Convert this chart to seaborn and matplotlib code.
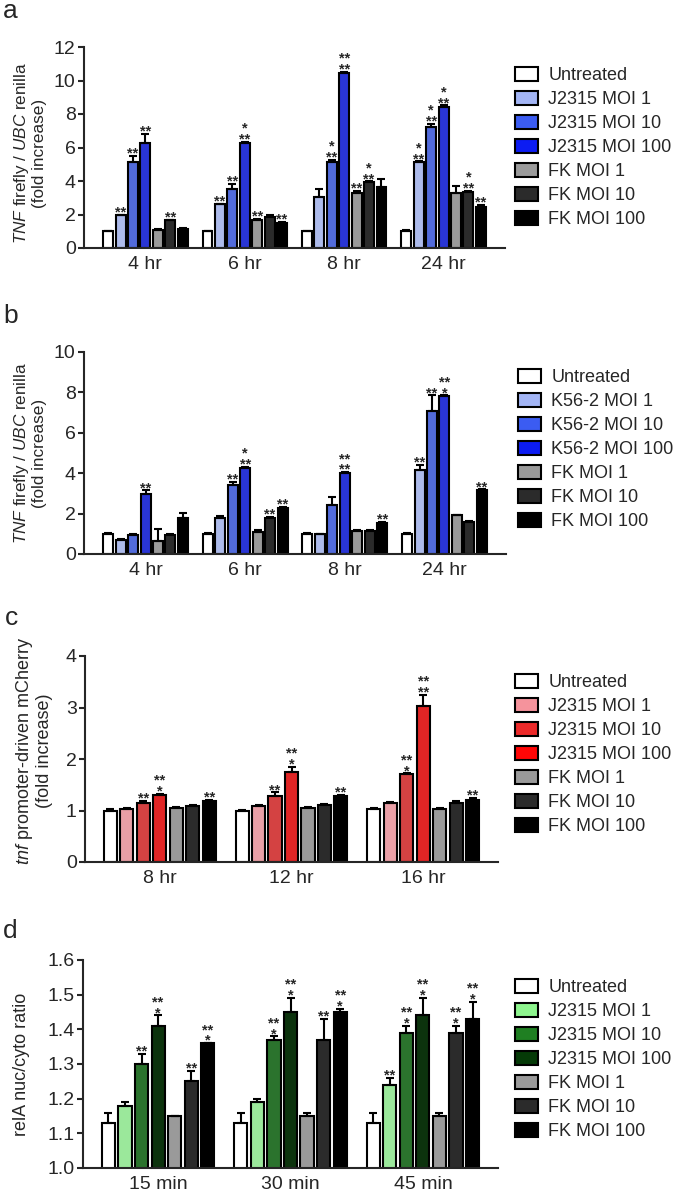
import numpy as np
import pandas as pd
import matplotlib
matplotlib.use("Agg")
import matplotlib.pyplot as plt
from matplotlib.patches import Patch
from matplotlib.container import BarContainer
import seaborn as sns

# ---------------- data ----------------
a_times = ["4 hr", "6 hr", "8 hr", "24 hr"]
a_groups = ["Untreated", "J2315 MOI 1", "J2315 MOI 10", "J2315 MOI 100",
            "FK MOI 1", "FK MOI 10", "FK MOI 100"]
a_mean = [[1.0, 1.0, 1.0, 1.0],
          [1.95, 2.6, 3.05, 5.12],
          [5.15, 3.55, 5.12, 7.25],
          [6.25, 6.25, 10.45, 8.4],
          [1.1, 1.7, 3.3, 3.3],
          [1.65, 1.85, 3.95, 3.35],
          [1.12, 1.5, 3.65, 2.42]]
a_sem = [[0.04, 0.04, 0.04, 0.05],
         [0.05, 0.05, 0.45, 0.05],
         [0.35, 0.3, 0.15, 0.15],
         [0.55, 0.1, 0.05, 0.12],
         [0.05, 0.05, 0.1, 0.4],
         [0.05, 0.15, 0.03, 0.05],
         [0.05, 0.05, 0.45, 0.15]]
a_sig = [["", "", "", ""],
         ["**", "**", "", "*\n**"],
         ["**", "**", "*\n**", "*\n**"],
         ["**", "*\n**", "**\n**", "*\n**"],
         ["", "**", "**", ""],
         ["**", "", "*\n**", "*\n**"],
         ["", "**", "", "**"]]

b_times = ["4 hr", "6 hr", "8 hr", "24 hr"]
b_groups = ["Untreated", "K56-2 MOI 1", "K56-2 MOI 10", "K56-2 MOI 100",
            "FK MOI 1", "FK MOI 10", "FK MOI 100"]
b_mean = [[1.0, 1.0, 1.0, 1.0],
          [0.68, 1.8, 0.97, 4.15],
          [0.95, 3.42, 2.45, 7.1],
          [2.95, 4.25, 4.0, 7.8],
          [0.62, 1.1, 1.15, 1.92],
          [0.95, 1.8, 1.15, 1.6],
          [1.8, 2.27, 1.55, 3.15]]
b_sem = [[0.02, 0.02, 0.02, 0.03],
         [0.05, 0.1, 0.03, 0.25],
         [0.05, 0.15, 0.35, 0.75],
         [0.2, 0.05, 0.05, 0.05],
         [0.6, 0.07, 0.03, 0.03],
         [0.03, 0.03, 0.03, 0.02],
         [0.25, 0.05, 0.03, 0.05]]
b_sig = [["", "", "", ""],
         ["", "", "", "**"],
         ["", "**", "", "**"],
         ["**", "*\n**", "**\n**", "**\n*"],
         ["", "", "", ""],
         ["", "**", "", ""],
         ["", "**", "**", "**"]]

c_times = ["8 hr", "12 hr", "16 hr"]
c_groups = a_groups
c_mean = [[1.0, 0.99, 1.02],
          [1.03, 1.08, 1.14],
          [1.15, 1.28, 1.7],
          [1.3, 1.75, 3.03],
          [1.05, 1.04, 1.03],
          [1.08, 1.1, 1.14],
          [1.19, 1.28, 1.2]]
c_sem = [[0.03, 0.02, 0.02],
         [0.02, 0.03, 0.02],
         [0.03, 0.07, 0.02],
         [0.02, 0.1, 0.22],
         [0.02, 0.02, 0.02],
         [0.02, 0.03, 0.05],
         [0.02, 0.03, 0.04]]
c_sig = [["", "", ""],
         ["", "", ""],
         ["**", "**", "**\n*"],
         ["**\n*", "**\n*", "**\n**"],
         ["", "", ""],
         ["", "", ""],
         ["**", "**", "**"]]

d_times = ["15 min", "30 min", "45 min"]
d_groups = a_groups
d_mean = [[1.13, 1.13, 1.13],
          [1.18, 1.19, 1.24],
          [1.30, 1.37, 1.39],
          [1.41, 1.45, 1.44],
          [1.15, 1.15, 1.15],
          [1.25, 1.37, 1.39],
          [1.36, 1.45, 1.43]]
d_sem = [[0.03, 0.03, 0.03],
         [0.01, 0.01, 0.02],
         [0.03, 0.01, 0.02],
         [0.03, 0.04, 0.05],
         [0.0, 0.01, 0.01],
         [0.03, 0.06, 0.02],
         [0.0, 0.01, 0.05]]
d_sig = [["", "", ""],
         ["", "", "**"],
         ["**", "**\n*", "**\n*"],
         ["**\n*", "**\n*", "**\n*"],
         ["", "", ""],
         ["**", "**", "**\n*"],
         ["**\n*", "**\n*", "**\n*"]]

blue_pal = ["#ffffff", "#a3b5f5", "#3b5cf2", "#0c1cf2", "#9a9a9a", "#2b2b2b", "#000000"]
red_pal = ["#ffffff", "#f5939c", "#ec2a2a", "#ff0606", "#9a9a9a", "#2b2b2b", "#000000"]
green_pal = ["#ffffff", "#8ef58e", "#1f7f22", "#053a07", "#9a9a9a", "#2b2b2b", "#000000"]

# ---------------- style ----------------
sns.set_style("ticks")
plt.rcParams["font.family"] = ["Liberation Sans", "DejaVu Sans"]
plt.rcParams["mathtext.fontset"] = "custom"
plt.rcParams["mathtext.rm"] = "Liberation Sans"
plt.rcParams["mathtext.it"] = "Liberation Sans:italic"
plt.rcParams["axes.linewidth"] = 1.5

W, H = 676, 1199
fig = plt.figure(figsize=(W / 100, H / 100), dpi=100)


def px_axes(l, r, t, b):
    return fig.add_axes([l / W, 1 - b / H, (r - l) / W, (b - t) / H])


def panel(ax, times, groups, means, sems, sigs, pal, ylim, yticks, yfmt,
          ylabel, ylab_size, ylab_x, ylab_y, leg_xy):
    rows = []
    for g, mv in zip(groups, means):
        for t, v in zip(times, mv):
            rows.append({"time": t, "group": g, "value": v})
    df = pd.DataFrame(rows)
    sns.barplot(data=df, x="time", y="value", hue="group", order=times,
                hue_order=groups, palette=pal, edgecolor="black",
                linewidth=1.5, width=0.875, gap=0.2, errorbar=None,
                legend=False, ax=ax, zorder=2)
    bar_conts = [c for c in ax.containers if isinstance(c, BarContainer)]
    for gi, cont in enumerate(bar_conts):
        xs = np.array([p.get_x() + p.get_width() / 2 for p in cont.patches])
        m = np.array(means[gi])
        s = np.array(sems[gi])
        ax.errorbar(xs, m, yerr=[np.zeros_like(s), s], fmt="none",
                    ecolor="black", elinewidth=1.5, capsize=3.2,
                    capthick=1.5, zorder=3)
        for x, mm, ss, sg in zip(xs, m, s, sigs[gi]):
            if not sg:
                continue
            ax.annotate(sg, (x, mm + ss), xytext=(0, -3.4),
                        textcoords="offset points", ha="center",
                        va="bottom", multialignment="center",
                        fontsize=10.5, fontweight="bold",
                        linespacing=0.72, zorder=4)
    ax.set_ylim(*ylim)
    ax.set_yticks(yticks)
    ax.set_yticklabels([yfmt.format(v) for v in yticks])
    ax.set_xlabel("")
    ax.set_ylabel(ylabel, fontsize=ylab_size, linespacing=1.05)
    ax.yaxis.set_label_coords(ylab_x, ylab_y)
    ax.tick_params(axis="y", length=4, width=1.5, labelsize=14, pad=2)
    ax.tick_params(axis="x", length=0, labelsize=14, pad=6)
    sns.despine(ax=ax)
    handles = [Patch(facecolor=c, edgecolor="black", linewidth=1.5) for c in pal]
    ax.legend(handles, groups, loc="upper left",
              bbox_to_anchor=(leg_xy[0] / W, 1 - (leg_xy[1] - 6) / H),
              bbox_transform=fig.transFigure, frameon=False, fontsize=13,
              borderpad=0, borderaxespad=0, handlelength=1.25,
              handleheight=0.8, handletextpad=0.6, labelspacing=0.38)


ax_a = px_axes(84, 505, 47, 248)
panel(ax_a, a_times, a_groups, a_mean, a_sem, a_sig, blue_pal, (0, 12),
      [0, 2, 4, 6, 8, 10, 12], "{:g}",
      "$\\it{TNF}$ firefly / $\\it{UBC}$ renilla\n(fold increase)", 12.3,
      -0.088, 0.47, (515, 73))

ax_b = px_axes(84, 506, 352, 554)
panel(ax_b, b_times, b_groups, b_mean, b_sem, b_sig, blue_pal, (0, 10),
      [0, 2, 4, 6, 8, 10], "{:g}",
      "$\\it{TNF}$ firefly / $\\it{UBC}$ renilla\n(fold increase)", 12.3,
      -0.088, 0.5, (518, 375))

ax_c = px_axes(85, 498, 656, 862)
panel(ax_c, c_times, c_groups, c_mean, c_sem, c_sig, red_pal, (0, 4),
      [0, 1, 2, 3, 4], "{:g}",
      "$\\it{tnf}$ promoter-driven mCherry\n(fold increase)", 13,
      -0.078, 0.54, (515, 680))

ax_d = px_axes(83, 498, 960, 1168)
panel(ax_d, d_times, d_groups, d_mean, d_sem, d_sig, green_pal, (1.0, 1.6),
      [1.0, 1.1, 1.2, 1.3, 1.4, 1.5, 1.6], "{:.1f}",
      "relA nuc/cyto ratio", 13, -0.128, 0.5, (515, 985))

for letter, x, y in [("a", 3, 18), ("b", 3, 323), ("c", 5, 625), ("d", 3, 938)]:
    fig.text(x / W, 1 - y / H, letter, fontsize=19, ha="left", va="baseline")

fig.savefig("out.png", dpi=100)
